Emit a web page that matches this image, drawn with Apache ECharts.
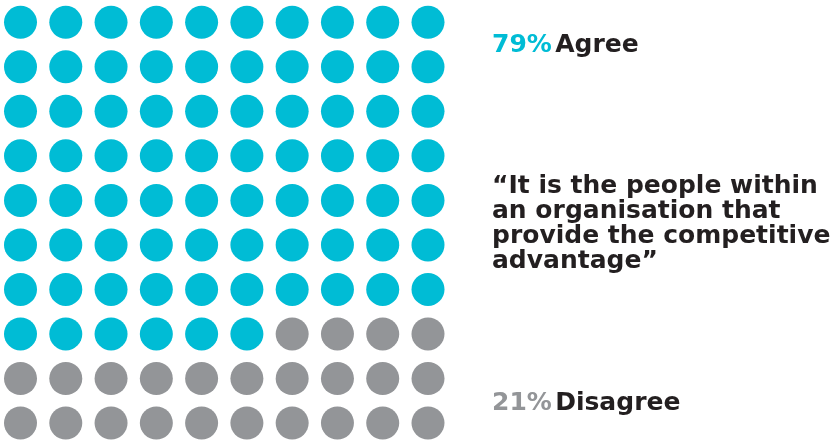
<!DOCTYPE html>
<html><head><meta charset="utf-8">
<script src="https://cdn.jsdelivr.net/npm/echarts@6/dist/echarts.min.js"></script>
<style>html,body{margin:0;padding:0;background:#fff}#c{width:835px;height:443px}</style>
</head><body><div id="c"></div>
<script>
// Data
var categories = ['Agree', 'Disagree'];
var percentValues = [79, 21];          // labelled percentages
var dotCounts = [76, 24];              // dots drawn in the reference
var gridCols = 10;
var gridRows = 10;
var quoteLines = ['\u201cIt is the people within', 'an organisation that', 'provide the competitive', 'advantage\u201d'];

var CYAN = '#00bcd5', GREY = '#939598', DARK = '#231f20';
var FONT = 'DejaVu Sans';
var FS = 25;

var agreeDots = [], disagreeDots = [];
var idx = 0;
for (var r = 0; r < gridRows; r++) {
  for (var c = 0; c < gridCols; c++) {
    (idx < dotCounts[0] ? agreeDots : disagreeDots).push([c, r]);
    idx++;
  }
}

var chart = echarts.init(document.getElementById('c'));
chart.setOption({
  animation: false,
  grid: { left: 20.5, top: 22.3, width: 407.5, height: 400.7 },
  xAxis: { type: 'value', min: 0, max: gridCols - 1, show: false },
  yAxis: { type: 'value', min: 0, max: gridRows - 1, inverse: true, show: false },
  series: [
    { name: categories[0], type: 'scatter', data: agreeDots, symbolSize: 33, itemStyle: { color: CYAN, opacity: 1 } },
    { name: categories[1], type: 'scatter', data: disagreeDots, symbolSize: 33, itemStyle: { color: GREY, opacity: 1 } }
  ],
  graphic: [
    { type: 'text', left: 492, top: 33, style: {
        text: '{p|' + percentValues[0] + '%} {l|' + categories[0] + '}',
        rich: { p: { fill: CYAN, font: 'bold ' + FS + 'px ' + FONT }, l: { fill: DARK, font: 'bold ' + FS + 'px ' + FONT } } } },
    { type: 'text', left: 492, top: 174, style: {
        text: quoteLines.join('\n'), fill: DARK, font: 'bold ' + FS + 'px ' + FONT, lineHeight: 25 } },
    { type: 'text', left: 492, top: 391, style: {
        text: '{p|' + percentValues[1] + '%} {l|' + categories[1] + '}',
        rich: { p: { fill: GREY, font: 'bold ' + FS + 'px ' + FONT }, l: { fill: DARK, font: 'bold ' + FS + 'px ' + FONT } } } }
  ]
});
</script></body></html>
